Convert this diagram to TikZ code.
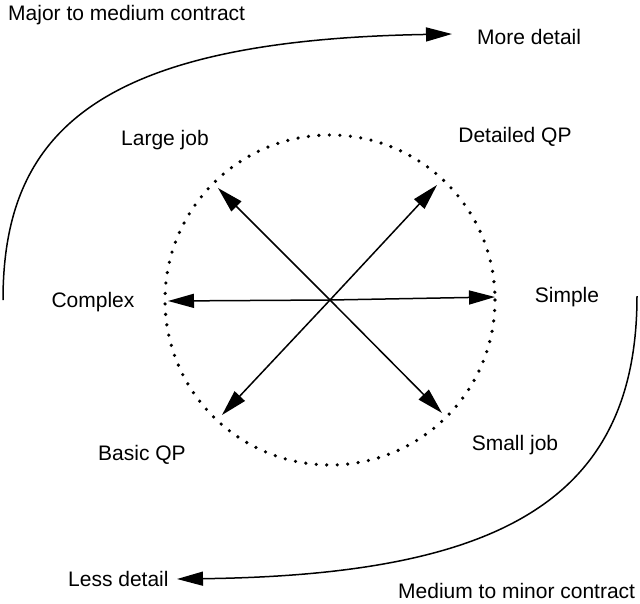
\documentclass[tikz,border=0pt]{standalone}
\usepackage{fontspec}
\setmainfont{Liberation Sans}
\usetikzlibrary{arrows.meta}

\begin{document}
\begin{tikzpicture}[x=1pt,y=-1pt,
    lbl/.style={inner sep=0pt,font=\fontsize{21}{25}\selectfont},
    tip/.style={-{Triangle[length=26pt,width=14pt]},line width=1.5pt}]
    \useasboundingbox (0,0) rectangle (640,603);
    \coordinate (c) at (330,300);
    \draw[line width=3.6pt,line cap=round,dash pattern=on 0pt off 10.5pt] (c) circle (165);
    % ends of the six arrows
    \coordinate (cl) at (168,301);
    \coordinate (cr) at (495,297);
    \coordinate (ul) at (218,188);
    \coordinate (ur) at (437,185);
    \coordinate (ll) at (222,415);
    \coordinate (lr) at (442,413);
    \foreach \n in {cl,cr,ul,ur,ll,lr}{
        \draw[tip] (c) -- (\n);
    }
    \node[lbl,anchor=west] (maj) at (8,15) {Major to medium contract};
    \node[lbl,anchor=west] (more) at (477,37) {More detail};
    \node[lbl] (large) at (165,140) {Large job};
    \node[lbl] (detqp) at (515,137) {Detailed QP};
    \node[lbl] (cmplx) at (93,302) {Complex};
    \node[lbl] (simp) at (567,297) {Simple};
    \node[lbl] (basqp) at (142,455) {Basic QP};
    \node[lbl] (small) at (515,445) {Small job};
    \node[lbl,anchor=west] (less) at (68,579) {Less detail};
    \node[lbl,anchor=west] (minor) at (398,591) {Medium to minor contract};
    % the two sweeping arrows
    \coordinate (a0) at (3,300);
    \coordinate (a1) at (452,34);
    \coordinate (b0) at (637,296);
    \coordinate (b1) at (177,579);
    \draw[tip] (a0) .. controls (3,130) and (100,40) .. (a1);
    \draw[tip] (b0) .. controls (637,500) and (500,575) .. (b1);
\end{tikzpicture}
\end{document}
